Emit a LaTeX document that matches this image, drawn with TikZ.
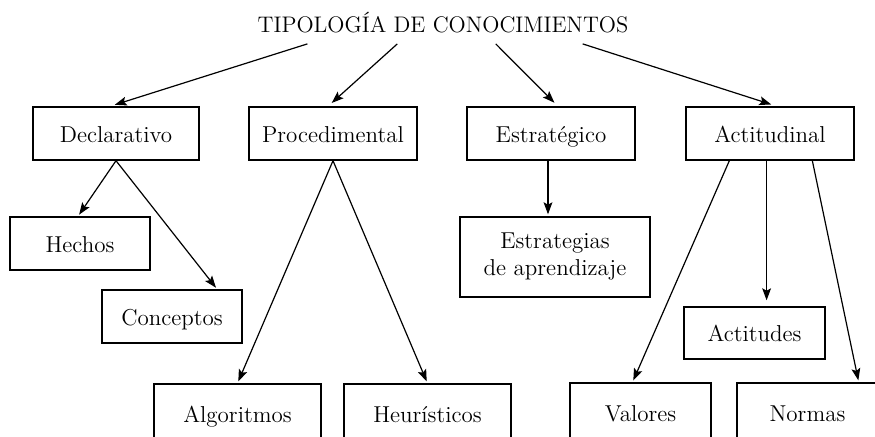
\documentclass[tikz,border=0pt]{standalone}
\usetikzlibrary{arrows.meta,calc}
\begin{document}
\begin{tikzpicture}[x=0.5pt,y=-0.5pt,
  kbox/.style={draw,line width=0.7pt,inner sep=0pt,minimum height=26.5pt,
    font=\fontsize{11.5}{13.5}\selectfont,text height=9.5pt,text depth=0.8pt},
  twobox/.style={draw,line width=0.7pt,inner sep=0pt,align=center,
    font=\fontsize{11.5}{13.5}\selectfont},
  arr/.style={line width=0.6pt,-{Stealth[length=6pt,width=4.4pt,inset=1.2pt]},shorten >=1pt}]
\useasboundingbox (0,0) rectangle (875,436);
% title
\node[anchor=base,inner xsep=0pt,inner ysep=5.5pt,font=\fontsize{11.25}{13}\selectfont] (title) at (443,32) {TIPOLOGÍA DE CONOCIMIENTOS};
% first row
\node[kbox,minimum width=83pt] (decl) at (116,133.5) {Declarativo};
\node[kbox,minimum width=84pt] (proc) at (333,133.5) {Procedimental};
\node[kbox,minimum width=84pt] (estr) at (551,133.5) {Estratégico};
\node[kbox,minimum width=84pt] (acti) at (770,133.5) {Actitudinal};
% declarativo
\node[kbox,minimum width=70pt] (hech) at (80,243.5) {Hechos};
\node[kbox,minimum width=70pt] (conc) at (172,316.5) {Conceptos};
% procedimental (cut at the bottom)
\node[kbox,minimum width=83.5pt,minimum height=30pt] (algo) at (237.5,414) {Algoritmos};
\node[kbox,minimum width=83.5pt,minimum height=30pt] (heur) at (427.5,414) {Heurísticos};
% estrategico
\node[twobox,minimum width=95pt,minimum height=40pt] (strat) at (555,257) {Estrategias\\de aprendizaje};
% actitudinal
\node[kbox,minimum width=70.5pt,minimum height=26pt] (actd) at (754.5,333) {Actitudes};
\node[kbox,minimum width=70.5pt,minimum height=30pt] (valo) at (640.5,413) {Valores};
\node[kbox,minimum width=70.5pt,minimum height=30pt] (norm) at (807.5,413) {Normas};

% arrows from the title
\draw[arr,shorten >=2.5pt] ($(title.south west)!0.135!(title.south east)$) -- ([xshift=-3pt]decl.north);
\draw[arr,shorten >=2.5pt] ($(title.south west)!0.377!(title.south east)$) -- ([xshift=-2.5pt]proc.north);
\draw[arr,shorten >=2.5pt] ($(title.south west)!0.642!(title.south east)$) -- ([xshift=3.5pt]estr.north);
\draw[arr,shorten >=3pt] ($(title.south west)!0.876!(title.south east)$) -- ([xshift=3.5pt]acti.north);
% declarativo
\draw[arr] (decl.south) -- ([xshift=-1pt]hech.north);
\draw[arr] (decl.south) -- ($(conc.north west)!0.82!(conc.north east)$);
% procedimental
\draw[arr] (proc.south) -- (algo.north);
\draw[arr] (proc.south) -- (heur.north);
% estrategico
\coordinate (e1) at ([xshift=-1.5pt]estr.south);
\draw[arr] (e1) -- (e1 |- strat.north);
% actitudinal
\draw[arr] ($(acti.south west)!0.26!(acti.south east)$) -- ([xshift=-4pt]valo.north);
\coordinate (a2) at ($(acti.south west)!0.48!(acti.south east)$);
\draw[arr,shorten >=3pt] (a2) -- (a2 |- actd.north);
\draw[arr] ($(acti.south west)!0.75!(acti.south east)$) -- ($(norm.north west)!0.86!(norm.north east)$);
\end{tikzpicture}
\end{document}
